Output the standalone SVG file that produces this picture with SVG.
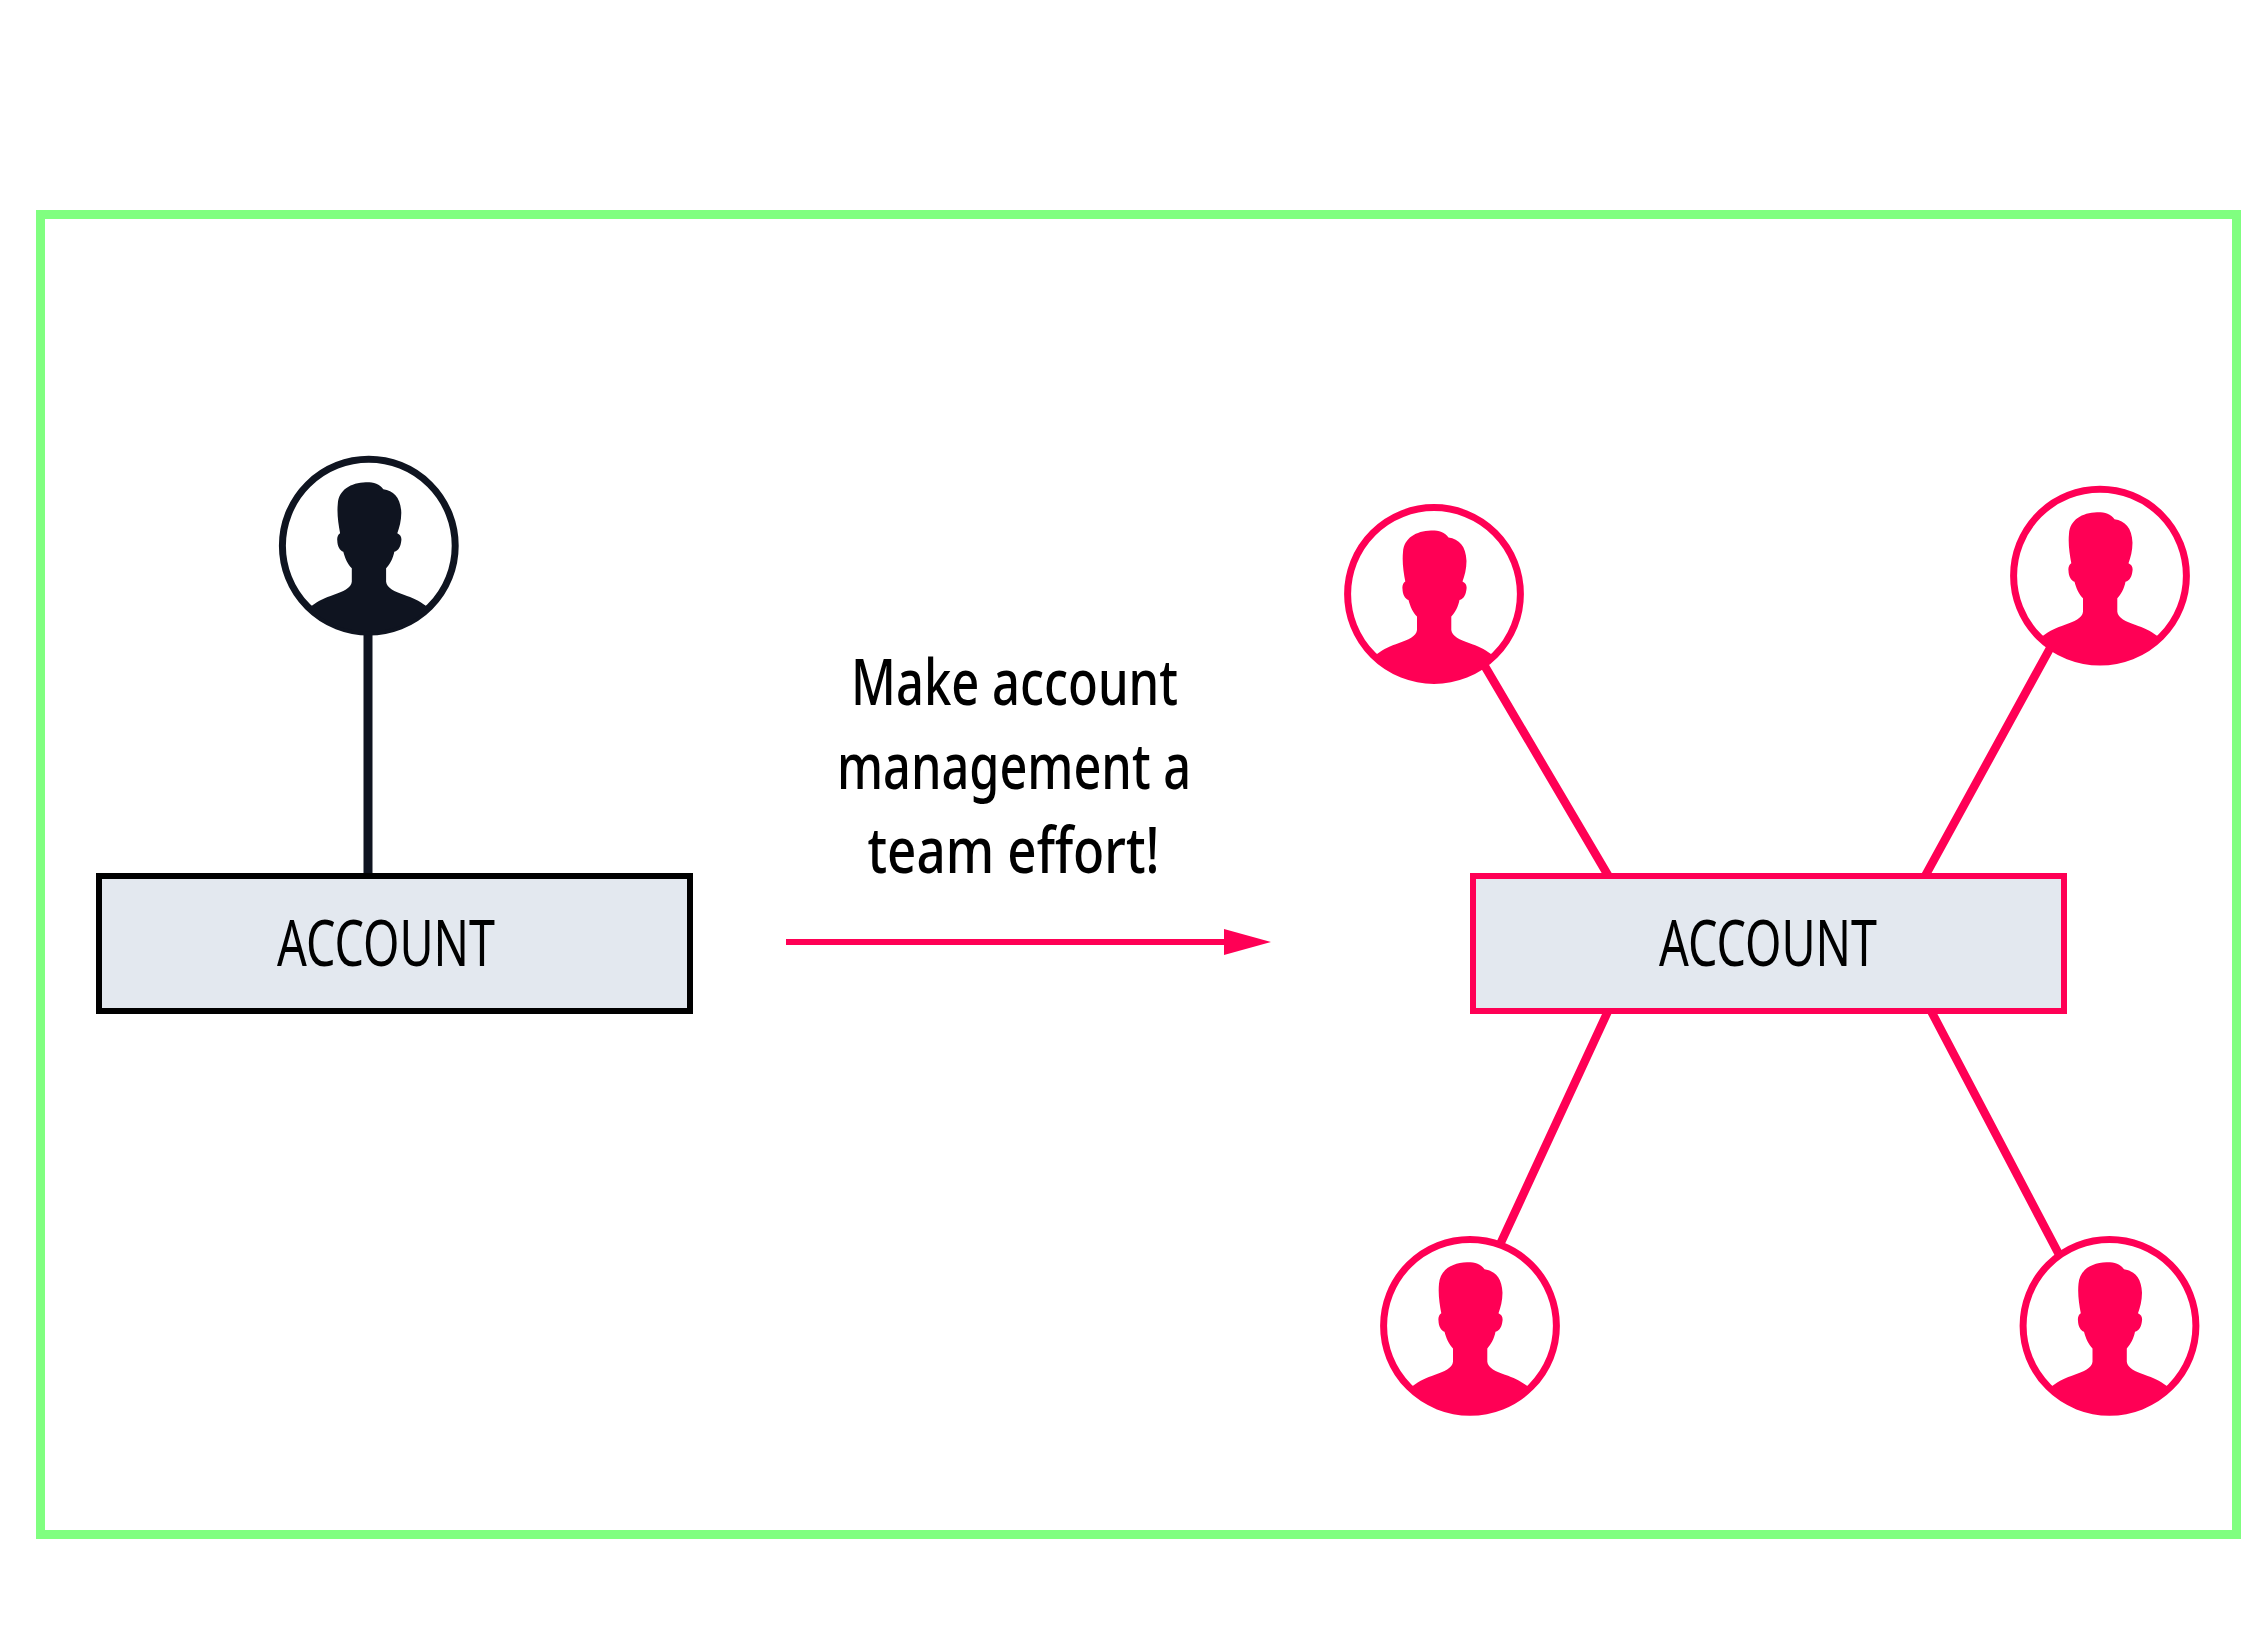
<svg xmlns="http://www.w3.org/2000/svg" width="2250" height="1650" viewBox="0 0 2250 1650">
<defs>
<clipPath id="c"><circle r="86"/></clipPath>
<path id="person" d="M-3 -63.500C4 -63.700 11 -62 14.500 -56.500C25 -55 32 -48 32.500 -33C32.500 -25 30.500 -18 28.500 -12.500C32 -11 33 -8 32.500 -5C32 0 30 5 25.500 6C24.500 12 21 19 17.300 22.600L17.300 36C18 42 26 46 35 49C44 52 50 55 57 60L70 75L0 100L-70 75L-57 60C-50 55 -44 52 -35 49C-26 46 -17.500 42 -17 36L-17 22.600C-21 19 -24 12 -25.500 6C-29 5 -31.500 0 -31.500 -5C-32 -8 -31 -11 -28.700 -12.500C-30.500 -22 -32 -32 -31 -42C-30 -56 -18 -63 -3 -63.500Z"/>
</defs>
<style>
.t{font-family:"Noto Sans","Open Sans",sans-serif;fill:#000}
.a{font-size:63px;font-weight:400}
.h{font-size:63px;font-weight:550}
.ring{fill:#fff;stroke-width:7}
.box{fill:#e3e8ef;stroke-width:6}
</style>
<rect x="40.500" y="214.500" width="2196" height="1320" fill="#fff" stroke="#80ff80" stroke-width="9"/>
<g id="connectors" fill="none" stroke-width="8.500">
<path d="M368 620V875" stroke="#0f1420" stroke-width="9"/>
<path d="M1480 658L1609.600 878M2054 641L1924 878M1609 1009L1497 1251M1930 1009L2063 1262" stroke="#ff0055"/>
<path d="M786 942H1225" stroke="#ff0055" stroke-width="6"/>
<path d="M1224 929L1271 942L1224 955Z" fill="#ff0055"/>
</g>
<g id="user-left" fill="#0f1420" stroke="#0f1420"><circle class="ring" cx="368.800" cy="545.700" r="86.400"/><use href="#person" x="368.800" y="545.700" stroke="none" clip-path="url(#c)"/></g>
<g id="account-left"><rect class="box" x="99" y="876" width="591" height="135" stroke="#000"/><text class="t a" x="277" y="965.700" textLength="218" lengthAdjust="spacingAndGlyphs">ACCOUNT</text></g>
<g id="label"><text class="t h" x="851" y="705.300" textLength="327" lengthAdjust="spacingAndGlyphs">Make account</text><text class="t h" x="837" y="789.300" textLength="354" lengthAdjust="spacingAndGlyphs">management a</text><text class="t h" x="867.500" y="873.300" textLength="292" lengthAdjust="spacingAndGlyphs">team effort!</text></g>
<g id="account-right"><rect class="box" x="1473" y="876" width="591" height="135" stroke="#ff0055"/><text class="t a" x="1659" y="965.700" textLength="218" lengthAdjust="spacingAndGlyphs">ACCOUNT</text></g>
<g id="user-1" fill="#ff0055" stroke="#ff0055"><circle class="ring" cx="1434" cy="594" r="86.400"/><use href="#person" x="1434" y="594" stroke="none" clip-path="url(#c)"/></g>
<g id="user-2" fill="#ff0055" stroke="#ff0055"><circle class="ring" cx="2100" cy="575.700" r="86.400"/><use href="#person" x="2100" y="575.700" stroke="none" clip-path="url(#c)"/></g>
<g id="user-3" fill="#ff0055" stroke="#ff0055"><circle class="ring" cx="1470" cy="1325.800" r="86.400"/><use href="#person" x="1470" y="1325.800" stroke="none" clip-path="url(#c)"/></g>
<g id="user-4" fill="#ff0055" stroke="#ff0055"><circle class="ring" cx="2109.500" cy="1325.800" r="86.400"/><use href="#person" x="2109.500" y="1325.800" stroke="none" clip-path="url(#c)"/></g>
</svg>
